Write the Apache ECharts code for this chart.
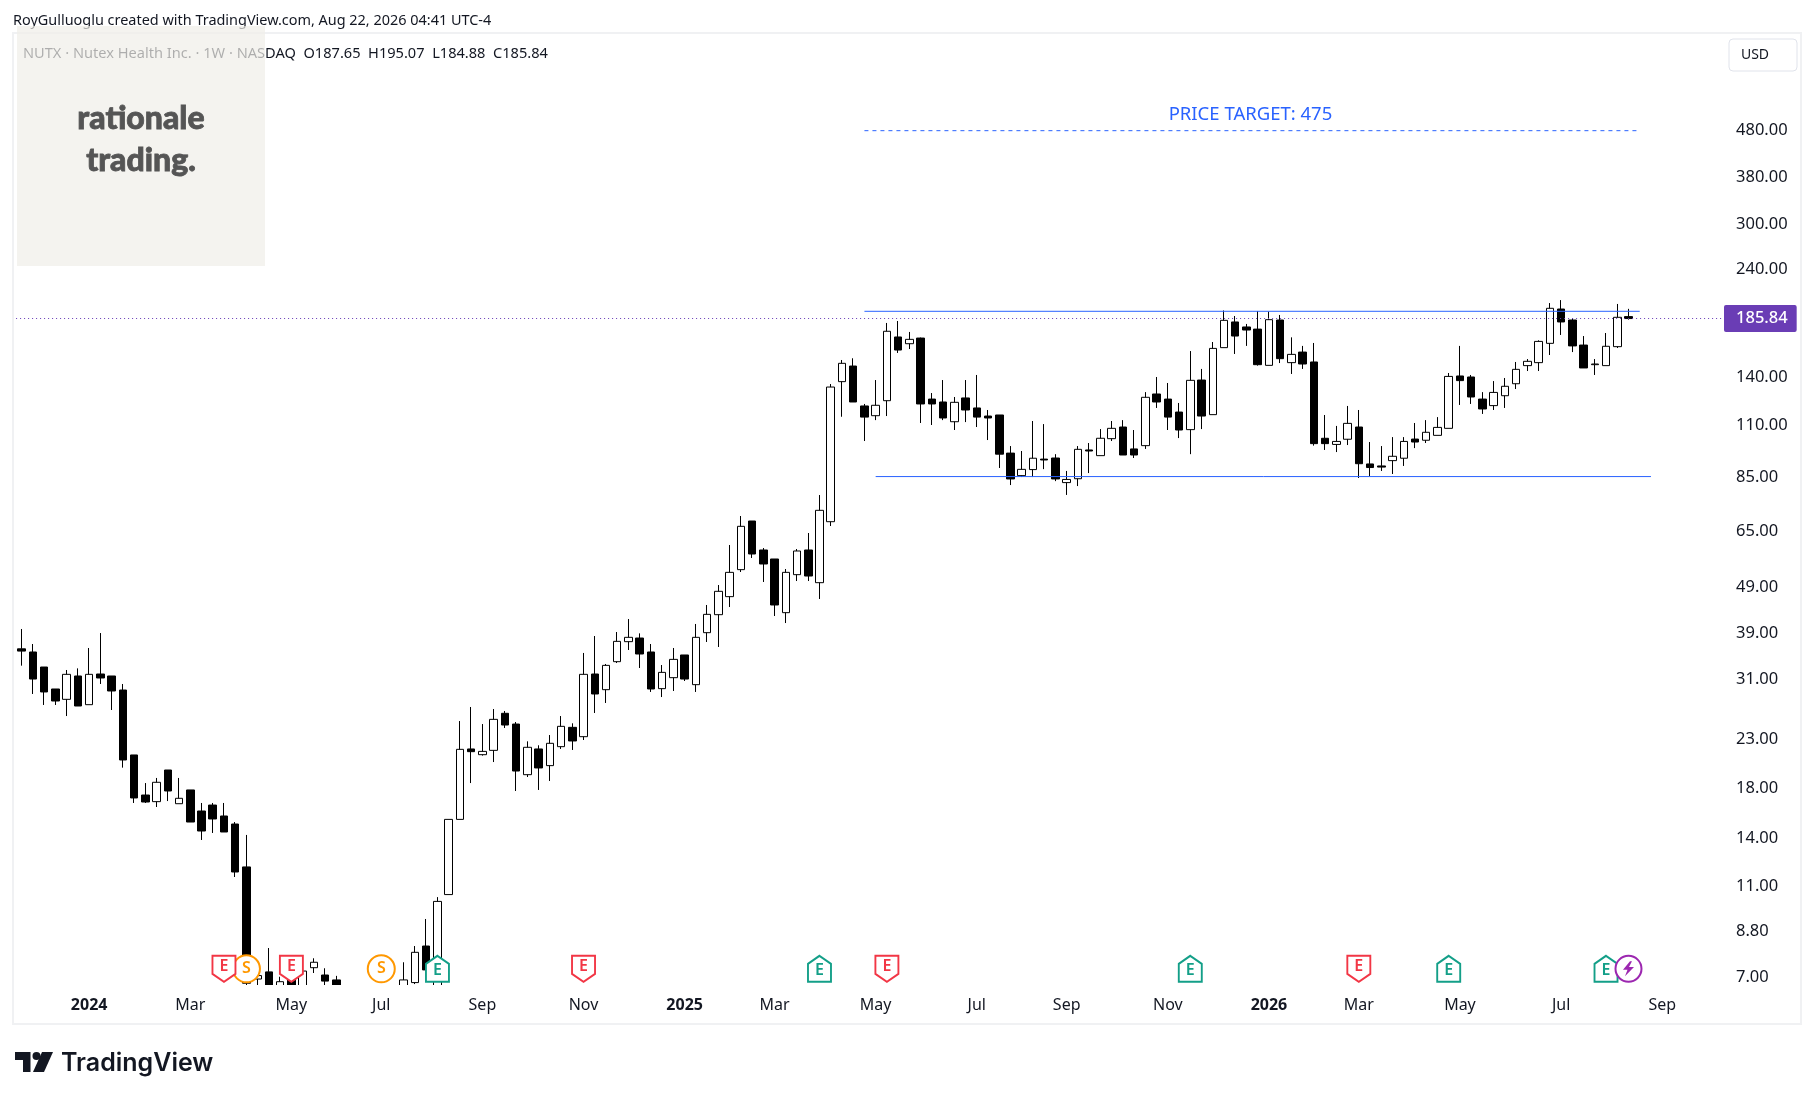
<!DOCTYPE html>
<html><head><meta charset="utf-8"><title>NUTX</title>
<style>html,body{margin:0;padding:0;background:#fff}#c{width:1814px;height:1100px}</style>
<script src="https://cdn.jsdelivr.net/npm/echarts@6/dist/echarts.min.js"></script>
</head><body><div id="c"></div><script>
const weeks=['2023-11-20','2023-11-27','2023-12-04','2023-12-11','2023-12-18','2023-12-25',
'2024-01-01','2024-01-08','2024-01-15','2024-01-22','2024-01-29','2024-02-05','2024-02-12','2024-02-19','2024-02-26','2024-03-04','2024-03-11','2024-03-18','2024-03-25','2024-04-01','2024-04-08','2024-04-15','2024-04-22','2024-04-29','2024-05-06','2024-05-13','2024-05-20','2024-05-27','2024-06-03','2024-06-10','2024-06-17','2024-06-24','2024-07-01','2024-07-08','2024-07-15','2024-07-22','2024-07-29','2024-08-05','2024-08-12','2024-08-19','2024-08-26','2024-09-02','2024-09-09','2024-09-16','2024-09-23','2024-09-30','2024-10-07','2024-10-14','2024-10-21','2024-10-28','2024-11-04','2024-11-11','2024-11-18','2024-11-25','2024-12-02','2024-12-09','2024-12-16','2024-12-23','2024-12-30',
'2025-01-06','2025-01-13','2025-01-20','2025-01-27','2025-02-03','2025-02-10','2025-02-17','2025-02-24','2025-03-03','2025-03-10','2025-03-17','2025-03-24','2025-03-31','2025-04-07','2025-04-14','2025-04-21','2025-04-28','2025-05-05','2025-05-12','2025-05-19','2025-05-26','2025-06-02','2025-06-09','2025-06-16','2025-06-23','2025-06-30','2025-07-07','2025-07-14','2025-07-21','2025-07-28','2025-08-04','2025-08-11','2025-08-18','2025-08-25','2025-09-01','2025-09-08','2025-09-15','2025-09-22','2025-09-29','2025-10-06','2025-10-13','2025-10-20','2025-10-27','2025-11-03','2025-11-10','2025-11-17','2025-11-24','2025-12-01','2025-12-08','2025-12-15','2025-12-22','2025-12-29',
'2026-01-05','2026-01-12','2026-01-19','2026-01-26','2026-02-02','2026-02-09','2026-02-16','2026-02-23','2026-03-02','2026-03-09','2026-03-16','2026-03-23','2026-03-30','2026-04-06','2026-04-13','2026-04-20','2026-04-27','2026-05-04','2026-05-11','2026-05-18','2026-05-25','2026-06-01','2026-06-08','2026-06-15','2026-06-22','2026-06-29','2026-07-06','2026-07-13','2026-07-20','2026-07-27','2026-08-03','2026-08-10','2026-08-17','2026-08-24','2026-08-31','2026-09-07','2026-09-14','2026-09-21','2026-09-28','2026-10-05','2026-10-12'];
const opens=[35.7,35.14,32.6,29.21,27.74,31.17,27.01,31.48,31.17,29.06,21.01,17.2,16.64,19.49,16.47,17.64,15.88,16.36,15.49,14.88,12.01,6.86,7.11,6.4,6.88,6.4,7.26,7,6.83,6.4,6,5.7,6,6.3,6.3,6.74,8.09,6.5,10.46,15.23,21.65,21.04,21.5,
25.87,24.52,19.04,21.65,19.92,21.9,24.12,23.02,31.48,29.11,33.48,37,37.68,35.14,29.26,30.91,34.62,29.85,38.7,42.34,46.33,53.02,67.6,58.49,55.92,42.77,51.71,58.49,49.68,67.37,
135.6,146.6,120.1,114.4,123.3,169.5,163.9,168.6,124.3,122.5,111,125,118.9,114.2,114.8,94.9,84.8,87.4,92.1,92.6,81.9,83.5,96.4,93.7,102,108.1,96.9,98.5,127.5,124.3,116.5,106.7,136.7,115,160.7,182.7,178.2,
176.3,147.1,184.5,149.1,157.2,149.6,102.2,99.1,101.7,108.1,89.9,89,91.4,92.5,101.8,101.2,103.7,107.4,139.5,138.8,124.3,120.3,126.4,134.2,146.9,149.1,164.2,194.9,184.5,162.8,147.6,146.9,161.5,187.65];
const closes=[35.3,30.7,28.78,27.51,31.43,26.83,31.43,30.86,28.92,20.49,16.95,16.61,18.33,17.55,16.92,15.03,14.37,15.26,14.3,11.71,6.72,6.98,6.5,6.77,6.3,7.14,7.46,6.79,6.45,6,5.7,6.1,6.3,6.1,6.83,7.84,7.18,10.11,15.23,21.61,21.36,21.39,25.1,
24.4,19.39,21.83,19.69,22.27,24.24,22.53,31.43,28.49,32.87,37.06,37.81,34.79,29.21,31.74,33.87,30.7,37.81,42.41,47.58,52.31,65.83,57.33,54.54,44.44,52.31,58.2,51.36,71.31,132,
148.6,122.5,113.6,120.5,174.4,158.8,167.5,121.3,121.3,113.1,122.3,117.7,113.6,113.1,94.4,83.4,87.5,92.5,91.7,83.4,83.2,96.7,95.9,102.2,107.4,94,94,125.4,122.5,113.6,106.5,136.5,114.2,160.1,184.2,170.3,175.5,
147.6,184.8,152.1,155.4,148.1,99.5,99.5,100.6,110.1,90,88.3,88.5,93.4,100.6,100.3,105.3,107.9,139.2,136.3,125.6,118.3,128.5,132.5,144.2,150.1,165.8,195.6,182.7,162.1,145.2,148.1,161.8,187,185.84];
const lows=[32.82,28.49,26.97,26.97,25.52,26.83,27.01,29.95,26.3,19.72,16.53,16.53,16.2,16.69,16.47,15.03,13.74,14.23,14.3,11.42,5.9,6.3,6.2,6.2,6.1,6.2,7.07,6.5,6.3,5.8,5.5,5.5,5.8,5.9,6.1,6.69,7.18,6.3,10.46,15.23,18.26,20.94,20.28,
24.04,17.55,18.82,17.64,18.45,21.65,21.54,22.64,25.91,27.24,33.26,35.49,32.44,28.78,28.06,28.92,30.4,28.78,36.94,36.03,43.99,52.4,56.2,49.85,42.06,40.61,50.09,50.09,45.79,65.93,
113.8,122.5,100.8,111.9,114.2,156.5,159.6,110.3,109.2,111.9,106.5,110.8,108.1,101.3,88.1,80.9,84.2,84.2,87.6,82.5,77,80.5,85.9,93.7,100.8,94,92.6,96.9,118.9,106.5,102.3,94.4,107,115,160.7,155.7,162.1,
146.9,147.1,148.8,140.9,144.5,98.5,96.4,95.4,98.8,83.8,84.6,86.8,85.5,89,97.3,99.8,103.7,107.4,120.7,121.3,115.4,117.7,118.9,130.7,143,143,154.9,171.2,157.2,145.2,140.2,146.9,160.4,184.88];
const highs=[39.42,36.57,32.6,29.21,32.12,32.38,35.85,38.63,31.17,29.95,21.01,18.26,18.73,19.49,18.73,17.64,16.53,16.53,16.53,15.03,14.09,6.98,8.01,6.94,7.2,7.14,7.61,7.24,6.97,6.55,6.3,6.4,6.5,6.55,7.46,8.09,9.26,10.33,15.23,24.89,26.7,24.52,26.43,
26.17,24.77,22.49,22.05,23.21,25.52,24.61,34.97,38.06,33.1,38.83,41.43,38.57,36.57,32.93,35.85,34.62,40.42,44.44,49.1,59.97,69.31,67.6,59.07,55.92,53.19,58.78,63.67,76.97,134,
151.1,152.4,121.3,136.7,181.8,183.6,173.8,169,128.1,136.7,125.6,136.7,140.2,117.7,114.8,98.3,95.9,111.4,109.7,94.4,86.8,98.3,99.8,107,111.4,111.9,106.5,128.7,138.8,134.7,121.9,158,144.5,165.3,193.5,188.2,180.9,
193,192.4,189.2,169.2,162.1,164.5,114.8,108.7,120.1,117.7,100.3,98.3,102.8,102.8,110.3,111.9,113.6,141.6,162.1,140.2,128.7,136,138.1,149.6,151.8,166.7,200.8,203.8,186.3,170.3,151.8,172.9,199.9,195.07];
const priceTicks=[480,380,300,240,140,110,85,65,49,39,31,23,18,14,11,8.8,7];
const timeLabels={'2024-01-01':'2024','2024-03-04':'Mar','2024-05-06':'May','2024-07-01':'Jul','2024-09-02':'Sep','2024-11-04':'Nov','2025-01-06':'2025','2025-03-03':'Mar','2025-05-05':'May','2025-07-07':'Jul','2025-09-01':'Sep','2025-11-03':'Nov','2026-01-05':'2026','2026-03-02':'Mar','2026-05-04':'May','2026-07-06':'Jul','2026-09-07':'Sep'};
const resistance=192.7, support=84.4, target=475, lastClose=185.84;
const resistanceSpan=['2025-04-28','2026-08-24'], supportSpan=['2025-05-05','2026-08-31'], targetSpan=['2025-04-28','2026-08-24'];
const targetLabelWeek='2025-12-22';
const earningsMiss=['2024-03-25','2024-05-06','2024-11-04','2025-05-12','2026-03-02'];
const earningsBeat=['2024-08-05','2025-03-31','2025-11-17','2026-04-27','2026-08-03'];
const splits=['2024-04-08','2024-07-01'];
const dividendsFlash=['2026-08-17'];
const markerLevel=7.22;

const FONT='"Noto Sans", sans-serif';
const ink='#131722', blue='#2962FF', purple='#673AB7';
const candles=opens.map((o,i)=>[o,closes[i],lows[i],highs[i]]);
const pts=a=>a.map(d=>[d,markerLevel]);
function marker(name,dates,symbol,size,color,text,z,dy){
  return {type:'scatter',name,data:pts(dates),symbol,symbolSize:size,z,silent:true,
    itemStyle:{color:'#fff',borderColor:color,borderWidth:2,opacity:1},
    label:{show:true,position:'inside',formatter:text,color,fontFamily:FONT,fontSize:16,fontWeight:600,offset:[0,dy||0]}};
}
const chart=echarts.init(document.getElementById('c'),null,{renderer:'canvas',devicePixelRatio:1});
chart.setOption({
  animation:false,backgroundColor:'#fff',
  grid:{left:16.1,right:90,top:34,bottom:115,containLabel:false},
  xAxis:{type:'category',data:weeks,boundaryGap:true,z:12,
    axisLine:{show:false},axisTick:{show:false},splitLine:{show:false},
    axisLabel:{interval:(i,v)=>v in timeLabels,hideOverlap:false,margin:12,fontFamily:FONT,fontSize:16,color:ink,
      formatter:v=>{const t=timeLabels[v]||'';return /^\d/.test(t)?'{y|'+t+'}':t;},
      rich:{y:{fontFamily:FONT,fontSize:16,fontWeight:700,color:ink}}}},
  yAxis:{type:'log',position:'right',min:6.659,max:769.9,logBase:10,z:12,
    axisLine:{show:false},axisTick:{show:false},splitLine:{show:false},
    axisLabel:{customValues:priceTicks,margin:12,formatter:v=>'{p|'+Number(v).toFixed(2)+'}',
      rich:{p:{padding:[4,0,0,0],fontFamily:FONT,fontSize:16.5,color:ink}}}},
  series:[
    {type:'candlestick',name:'NUTX',data:candles,barWidth:8,clip:true,z:3,silent:true,
      itemStyle:{color:'#fff',color0:'#000',borderColor:'#000',borderColor0:'#000',borderWidth:1},
      markLine:{silent:true,symbol:'none',animation:false,
        lineStyle:{color:purple,type:[1,3],width:1},
        label:{show:true,position:'end',distance:0,formatter:String(lastClose),color:'#fff',backgroundColor:'#6A3DB5',padding:[6,9,4,12],borderRadius:2,fontFamily:FONT,fontSize:16.5,fontWeight:500},
        data:[{yAxis:lastClose}]}},
    {type:'line',name:'resistance',data:resistanceSpan.map(d=>[d,resistance]),showSymbol:false,z:4,silent:true,lineStyle:{color:blue,width:1}},
    {type:'line',name:'support',data:supportSpan.map(d=>[d,support]),showSymbol:false,z:4,silent:true,lineStyle:{color:blue,width:1}},
    {type:'line',name:'target',showSymbol:false,z:4,silent:true,lineStyle:{color:blue,width:1,type:[4,4]},
      data:targetSpan.map(d=>[d,target]),
      markPoint:{silent:true,animation:false,symbol:'circle',symbolSize:1,itemStyle:{color:'rgba(0,0,0,0)'},
        label:{show:true,position:'top',distance:6,offset:[4,0],formatter:'PRICE TARGET: '+target,color:blue,fontFamily:FONT,fontSize:18.5},
        data:[{coord:[targetLabelWeek,target]}]}},
    marker('splits',splits,'circle',27,'#FF9800','S',6),
    marker('earningsMiss',earningsMiss,'path://M0 0H23V18L11.5 26L0 18Z',[23,26],'#F23645','E',7,-2),
    marker('earningsBeat',earningsBeat,'path://M11.5 0L23 8V26H0V8Z',[23,26],'#139F88','E',7,2),
    {type:'scatter',name:'flash',data:pts(dividendsFlash),symbol:'circle',symbolSize:26,z:8,silent:true,
      itemStyle:{color:'#fff',borderColor:'#9C27B0',borderWidth:2,opacity:1}},
    {type:'scatter',name:'bolt',data:pts(dividendsFlash),symbol:'path://M7 0L0 9H4.5L2 16L11 6H6L9 0Z',symbolSize:[11,15],z:9,silent:true,
      itemStyle:{color:'#9C27B0',opacity:1}}
  ],
  graphic:[
    {type:'rect',silent:true,z:1,shape:{x:13,y:33,width:1788,height:991},style:{fill:'none',stroke:'#F0F1F3',lineWidth:2}},
    {type:'rect',silent:true,z:5,shape:{x:14,y:985,width:1786,height:38},style:{fill:'#fff'}},
    {type:'text',silent:true,z:20,x:13,y:14,style:{text:'RoyGulluoglu created with TradingView.com, Aug 22, 2026 04:41 UTC-4',fill:ink,fontFamily:FONT,fontSize:14.45}},
    {type:'text',silent:true,z:20,x:23,y:46,style:{text:'NUTX · Nutex Health Inc. · 1W · NASDAQ  O187.65  H195.07  L184.88  C185.84',fill:ink,fontFamily:FONT,fontSize:14.6}},
    {type:'rect',silent:true,z:30,shape:{x:17,y:26,width:248,height:240},style:{fill:'rgba(240,238,232,0.7)'}},
    {type:'text',silent:true,z:31,x:141,y:119,style:{text:'rationale',fill:'#555555',stroke:'#555555',lineWidth:0.8,fontFamily:'Lato',fontWeight:900,fontSize:32,align:'center',verticalAlign:'middle'}},
    {type:'text',silent:true,z:31,x:141,y:161,style:{text:'trading.',fill:'#555555',stroke:'#555555',lineWidth:0.8,fontFamily:'Lato',fontWeight:900,fontSize:32,align:'center',verticalAlign:'middle'}},
    {type:'rect',silent:true,z:20,shape:{x:1729,y:39,width:68,height:32,r:4},style:{fill:'#fff',stroke:'#E0E3EB',lineWidth:1}},
    {type:'text',silent:true,z:21,x:1755,y:55,style:{text:'USD',fill:ink,fontFamily:FONT,fontSize:14,align:'center',verticalAlign:'middle'}},
    {type:'polygon',silent:true,z:20,shape:{points:[[15,1052],[30.5,1052],[30.5,1072],[23,1072],[23,1060],[15,1060]]},style:{fill:'#131722'}},
    {type:'circle',silent:true,z:20,shape:{cx:36.5,cy:1056,r:4},style:{fill:'#131722'}},
    {type:'polygon',silent:true,z:20,shape:{points:[[42,1052],[53,1052],[44,1072],[33,1072]]},style:{fill:'#131722'}},
    {type:'text',silent:true,z:20,x:61,y:1063,style:{text:'TradingView',fill:'#131722',fontFamily:'Inter',fontWeight:600,fontSize:25,verticalAlign:'middle'}}
  ]
});
</script></body></html>
